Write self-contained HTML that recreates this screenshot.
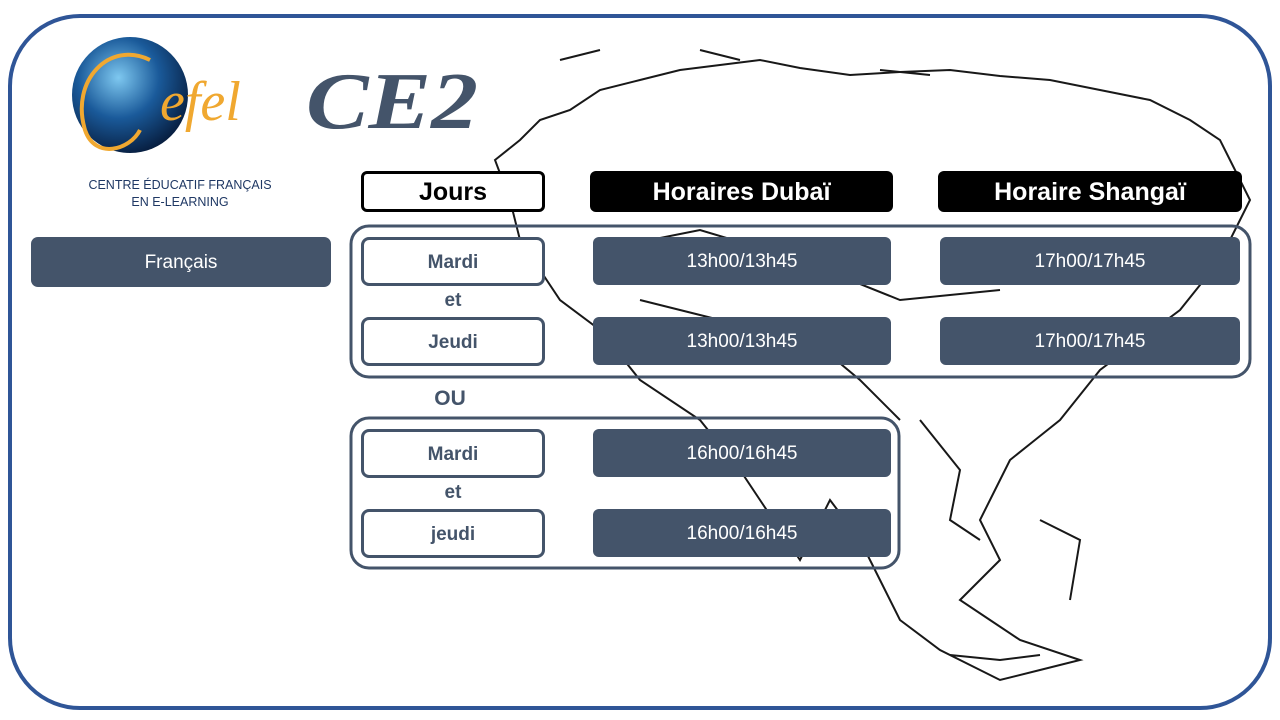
<!DOCTYPE html>
<html><head><meta charset="utf-8"><style>
body{margin:0;width:1280px;height:720px;background:#fff;position:relative;overflow:hidden;font-family:"Liberation Sans",sans-serif}
.a{position:absolute;box-sizing:border-box;display:flex;align-items:center;justify-content:center;padding-top:2px}
.day{background:#fff;border:3px solid #44546a;border-radius:8px;color:#44546a;font-weight:bold;font-size:19px}
.t{background:#44546a;border-radius:6px;color:#fff;font-size:19px}
.h{background:#000;border-radius:6px;color:#fff;font-weight:bold;font-size:25px}
.txt{position:absolute;color:#44546a;font-weight:bold;font-size:19px;width:184px;text-align:center}
</style></head><body>
<svg width="1280" height="720" style="position:absolute;left:0;top:0">
<defs><radialGradient id="g" cx="40%" cy="35%" r="70%"><stop offset="0" stop-color="#7ec8f0"/><stop offset=".5" stop-color="#1a5a9a"/><stop offset="1" stop-color="#061a3a"/></radialGradient></defs>
<g fill="none" stroke="#000" stroke-width="2" opacity="0.9">
<path d="M495 160 L520 140 L540 120 L570 110 L600 90 L640 80 L680 70 L720 65 L760 60 L800 68 L850 75 L900 72 L950 70 L1000 76 L1050 80 L1100 90 L1150 100 L1190 120 L1220 140 L1235 170 L1250 200 L1235 230 L1220 260 L1200 285 L1180 310 L1140 340 L1100 370 L1080 395 L1060 420 L1035 440 L1010 460 L995 490 L980 520 L1000 560 L980 580 L960 600 L990 620 L1020 640 L1080 660 L1040 670 L1000 680 L970 665 L940 650 L900 620 L880 580 L860 540 L830 500 L800 560 L780 530 L740 470 L700 420 L640 380 L600 330 L560 300 L540 270 L520 240 L510 200 Z"/>
<path d="M600 250 L650 240 L700 230 L750 245 L800 260 L900 300 L1000 290"/>
<path d="M640 300 L720 320 L800 330 L860 380 L900 420"/>
<path d="M560 60 L600 50 M700 50 L740 60 M880 70 L930 75"/>
<path d="M920 420 L960 470 L950 520 L980 540 M1040 520 L1080 540 L1070 600 M950 655 L1000 660 L1040 655"/>
</g>
<rect x="10" y="16" width="1260" height="692" rx="70" fill="none" stroke="#2f5597" stroke-width="4"/>
<rect x="351" y="226" width="899" height="151" rx="18" fill="none" stroke="#44546a" stroke-width="3"/>
<rect x="351" y="418" width="548" height="150" rx="18" fill="none" stroke="#44546a" stroke-width="3"/>
<circle cx="130" cy="95" r="58" fill="url(#g)"/>
<path d="M150 60 C110 40 70 80 85 130 C95 160 130 150 140 130" fill="none" stroke="#f0a830" stroke-width="4"/>
<text x="160" y="120" font-family="Liberation Serif" font-style="italic" font-size="56" fill="#f0a830">efel</text>
<text x="306" y="128" font-family="Liberation Serif" font-style="italic" font-weight="bold" font-size="80" fill="#44546a" textLength="172" lengthAdjust="spacingAndGlyphs">CE2</text>
</svg>
<div style="position:absolute;left:60px;top:177px;width:240px;text-align:center;font-size:12.5px;color:#1f3864;line-height:17px">CENTRE ÉDUCATIF FRANÇAIS<br>EN E-LEARNING</div>
<div class="a t" style="left:31px;top:237px;width:300px;height:50px;border-radius:7px">Français</div>
<div class="a" style="left:361px;top:171px;width:184px;height:41px;border:3px solid #000;border-radius:6px;background:#fff;font-weight:bold;font-size:25px">Jours</div>
<div class="a h" style="left:590px;top:171px;width:303px;height:41px">Horaires Dubaï</div>
<div class="a h" style="left:938px;top:171px;width:304px;height:41px">Horaire Shangaï</div>
<div class="a day" style="left:361px;top:237px;width:184px;height:49px">Mardi</div>
<div class="txt" style="left:361px;top:290px">et</div>
<div class="a day" style="left:361px;top:317px;width:184px;height:49px">Jeudi</div>
<div class="a t" style="left:593px;top:237px;width:298px;height:48px">13h00/13h45</div>
<div class="a t" style="left:593px;top:317px;width:298px;height:48px">13h00/13h45</div>
<div class="a t" style="left:940px;top:237px;width:300px;height:48px">17h00/17h45</div>
<div class="a t" style="left:940px;top:317px;width:300px;height:48px">17h00/17h45</div>
<div class="txt" style="left:358px;top:387px;font-size:21px">OU</div>
<div class="a day" style="left:361px;top:429px;width:184px;height:49px">Mardi</div>
<div class="txt" style="left:361px;top:482px">et</div>
<div class="a day" style="left:361px;top:509px;width:184px;height:49px">jeudi</div>
<div class="a t" style="left:593px;top:429px;width:298px;height:48px">16h00/16h45</div>
<div class="a t" style="left:593px;top:509px;width:298px;height:48px">16h00/16h45</div>
</body></html>
